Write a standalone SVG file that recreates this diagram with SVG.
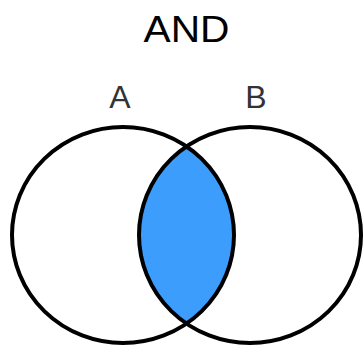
<svg xmlns="http://www.w3.org/2000/svg" width="364" height="347" viewBox="0 0 364 347">
<style>
.ring{fill:none;stroke:#000;stroke-width:4}
.lbl{font-family:"Liberation Sans",Arial,sans-serif;text-anchor:middle}
</style>
<rect width="364" height="347" fill="#fff"/>
<text class="lbl" x="186.5" y="41.5" font-size="37" fill="#000" textLength="86" lengthAdjust="spacingAndGlyphs">AND</text>
<g id="intersection">
<path d="M186.5 146.4 A111 108 0 0 1 186.5 323.6 A111 108 0 0 1 186.5 146.4 Z" fill="#3d9dfd"/>
</g>
<g id="setA">
<ellipse class="ring" cx="123" cy="235" rx="111" ry="108"/>
<text class="lbl" x="120" y="108" font-size="32" fill="#333">A</text>
</g>
<g id="setB">
<ellipse class="ring" cx="250" cy="235" rx="111" ry="108"/>
<text class="lbl" x="256" y="108" font-size="32" fill="#333">B</text>
</g>
<g id="connectors"/>
</svg>
